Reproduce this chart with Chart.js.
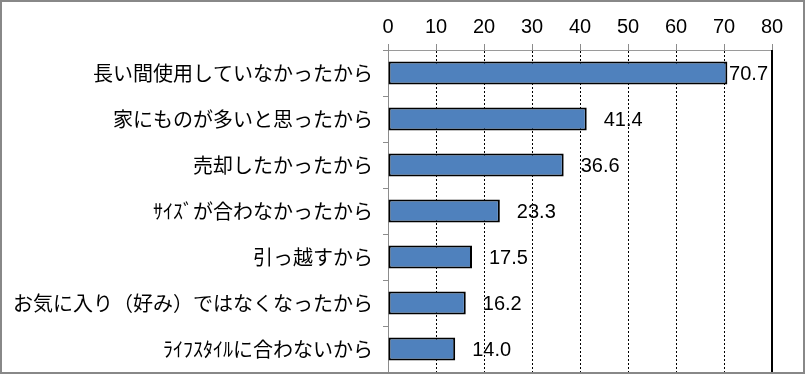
<!DOCTYPE html>
<html>
<head>
<meta charset="utf-8">
<script src="https://cdn.jsdelivr.net/npm/chart.js@4.4.1/dist/chart.umd.min.js"></script>
<style>
html,body{margin:0;padding:0;background:#fff;}
#wrap{width:805px;height:374px;position:relative;}
</style>
</head>
<body>
<div id="wrap"><canvas id="c" width="805" height="374"></canvas></div>
<script>
const categories = [
  "長い間使用していなかったから",
  "家にものが多いと思ったから",
  "売却したかったから",
  "ｻｲｽﾞが合わなかったから",
  "引っ越すから",
  "お気に入り（好み）ではなくなったから",
  "ﾗｲﾌｽﾀｲﾙに合わないから"
];
const values = [70.7, 41.4, 36.6, 23.3, 17.5, 16.2, 14.0];
const axisMin = 0;
const axisMax = 80;
const axisStep = 10;

const valueLabels = {
  id: 'valueLabels',
  afterDatasetsDraw(chart) {
    const ctx = chart.ctx;
    const meta = chart.getDatasetMeta(0);
    const right = chart.chartArea.right;
    ctx.save();
    ctx.font = '20px "Liberation Sans", Arial, sans-serif';
    ctx.fillStyle = '#000';
    ctx.textBaseline = 'middle';
    ctx.textAlign = 'left';
    meta.data.forEach((bar, i) => {
      const txt = values[i].toFixed(1);
      const w = ctx.measureText(txt).width;
      let x = Math.min(bar.x + 17, right - 4 - w);
      ctx.fillText(txt, x, bar.y + 1);
    });
    // top axis tick labels from the library's ticks
    const xs = chart.scales.x;
    ctx.textAlign = 'center';
    ctx.textBaseline = 'alphabetic';
    xs.ticks.forEach((t) => {
      const px = xs.getPixelForValue(t.value);
      ctx.fillText(String(t.label), px, chart.chartArea.top - 17);
    });
    ctx.restore();
  },
  afterDraw(chart) {
    const ctx = chart.ctx;
    const xs = chart.scales.x;
    const ca = chart.chartArea;
    ctx.save();
    const xr = Math.round(xs.getPixelForValue(axisMax));
    ctx.strokeStyle = '#000';
    ctx.lineWidth = 2;
    ctx.beginPath();
    ctx.moveTo(xr, ca.top);
    ctx.lineTo(xr, ca.bottom);
    ctx.stroke();
    ctx.strokeStyle = '#888';
    ctx.lineWidth = 2;
    ctx.strokeRect(1, 1, chart.width - 2, chart.height - 2);
    ctx.restore();
  }
};

new Chart(document.getElementById('c'), {
  type: 'bar',
  data: {
    labels: categories,
    datasets: [{
      data: values,
      backgroundColor: '#4F81BD',
      borderColor: '#000',
      borderWidth: 2,
      borderSkipped: false,
      barPercentage: 0.5,
      categoryPercentage: 1.0
    }]
  },
  options: {
    indexAxis: 'y',
    responsive: false,
    animation: false,
    layout: { padding: { left: 0, right: 33, top: 0, bottom: 2 } },
    plugins: { legend: { display: false }, tooltip: { enabled: false } },
    scales: {
      x: {
        position: 'top',
        min: axisMin,
        max: axisMax,
        afterFit(scale) { scale.height = 50; scale.paddingLeft = 0; scale.paddingRight = 0; },
        ticks: {
          stepSize: axisStep,
          display: false
        },
        grid: {
          color: (c) => (c.tick && (c.tick.value === axisMin || c.tick.value === axisMax)) ? 'rgba(0,0,0,0)' : '#000',
          lineWidth: 1,
          tickLength: 6,
          tickColor: '#8c8c8c',
          tickBorderDash: []
        },
        border: { display: true, color: '#9a9a9a', width: 1, dash: [2, 2] }
      },
      y: {
        afterFit(scale) { scale.width = 388; scale.paddingTop = 0; scale.paddingBottom = 0; },
        ticks: {
          color: '#000',
          padding: 10,
          font: { family: '"Noto Sans CJK JP", sans-serif', size: 20 }
        },
        grid: {
          drawOnChartArea: false,
          tickLength: 5,
          tickColor: '#8c8c8c',
          offset: true
        },
        border: { display: true, color: '#8c8c8c', width: 1 }
      }
    }
  },
  plugins: [valueLabels]
});
</script>
</body>
</html>
